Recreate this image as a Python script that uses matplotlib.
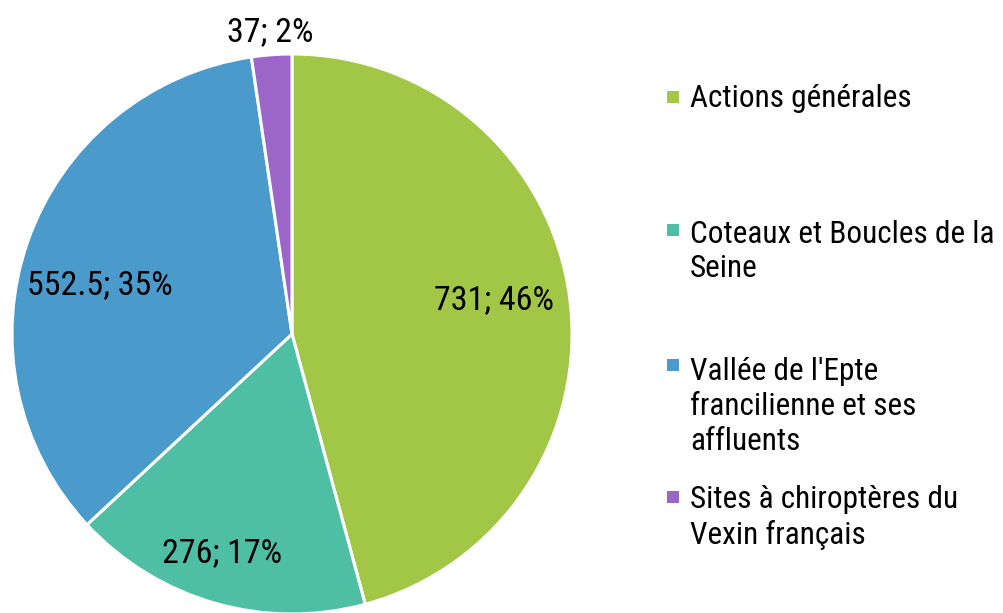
import matplotlib
matplotlib.use("Agg")
import matplotlib.pyplot as plt
from matplotlib import font_manager as fm
from matplotlib.patches import Rectangle
import numpy as np

categories = ["Actions générales", "Coteaux et Boucles de la\nSeine",
              "Vallée de l'Epte\nfrancilienne et ses\naffluents",
              "Sites à chiroptères du\nVexin français"]
values = [731, 276, 552.5, 37]
value_labels = ["731", "276", "552.5", "37"]
colors = ["#A2C646", "#4EBFA5", "#4A9BCB", "#9B66C7"]

# pick a condensed font if available
names = {f.name for f in fm.fontManager.ttflist}
family = "Liberation Sans"
stretch = "normal"
for cand in ["Roboto Condensed", "Liberation Sans Narrow", "Arial Narrow", "Open Sans Condensed"]:
    if cand in names:
        family = cand
        break
else:
    condensed = [f for f in fm.fontManager.ttflist if f.name == "DejaVu Sans" and f.stretch == "condensed"]
    if condensed:
        family = "DejaVu Sans"
        stretch = "condensed"
plt.rcParams["font.family"] = [family, "DejaVu Sans"]
plt.rcParams["font.stretch"] = stretch

W, H = 1004, 613
fig = plt.figure(figsize=(W / 100, H / 100), dpi=100)
cx, cy, R = 292, 334, 280
ax = fig.add_axes([(cx - R) / W, (H - cy - R) / H, 2 * R / W, 2 * R / H])
wedges, _ = ax.pie(values, colors=colors, startangle=90, counterclock=False,
                   radius=1.0, wedgeprops=dict(edgecolor="white", linewidth=2.2))
ax.set_xlim(-1, 1)
ax.set_ylim(-1, 1)
ax.set_aspect("equal")
ax.axis("off")

total = sum(values)
fs_pie = 24.5
fs_leg = 22.5
label_r = [0.73, 0.82, 0.71, 1.08]
label_dang = [2.0, -1.8, 5.0, 0.0]
for w, v, vl, r, da in zip(wedges, values, value_labels, label_r, label_dang):
    mid = np.deg2rad((w.theta1 + w.theta2) / 2 + da)
    ax.text(r * np.cos(mid), r * np.sin(mid), f"{vl}; {round(100 * v / total)}%",
            ha="center", va="center", fontsize=fs_pie, color="black", clip_on=False)

# legend (Excel style: marker aligned with first line)
first_baseline = [107, 240, 375, 507]
line_step = 37.5
sq = 12
for lab, col, y in zip(categories, colors, first_baseline):
    n = lab.count("\n")
    fig.add_artist(Rectangle((667 / W, (H - (y - 10.5) - sq / 2) / H), sq / W, sq / H,
                             transform=fig.transFigure, color=col, lw=0))
    fig.text(690 / W, (H - (y + n * line_step)) / H, lab, ha="left", va="baseline",
             fontsize=fs_leg, linespacing=1.25, transform=fig.transFigure)

fig.savefig("out.png", dpi=100)
